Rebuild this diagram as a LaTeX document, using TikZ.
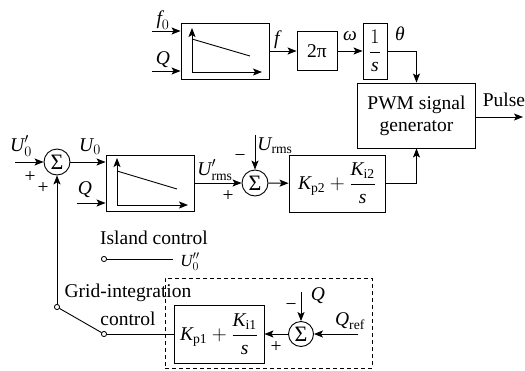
\documentclass[tikz,border=0pt]{standalone}
\usepackage{amsmath}
\usepackage{fontspec}
\setmainfont{Liberation Serif}
\usetikzlibrary{arrows.meta}
\begin{document}
\begin{tikzpicture}[x=1pt,y=-1pt,
  font=\fontsize{19.5}{22}\selectfont,
  line width=0.9pt,
  arr/.style={-{Stealth[length=9pt,width=7pt,inset=2pt]}},
  blk/.style={draw, inner sep=0pt, anchor=center},
  sumc/.style={draw, circle, minimum size=26pt, inner sep=0pt, font=\fontsize{22}{22}\selectfont},
  term/.style={draw, circle, minimum size=5pt, inner sep=0pt, fill=white, line width=0.7pt},
  lbl/.style={inner sep=0pt},
  dbox/.style={draw, dash pattern=on 4pt off 3pt, inner sep=0pt},
]
\useasboundingbox (0,0) rectangle (525,370);

% top row
\node[blk, minimum width=88pt, minimum height=56pt] (dr1) at (225,51) {};
\node[blk, minimum width=40pt, minimum height=39pt] (tp) at (317,51) {2π};
\node[blk, minimum width=24pt, minimum height=56pt] (ig) at (375,51) {$\displaystyle\frac{1}{\textit{s}}$};
\node[blk, minimum width=118pt, minimum height=65pt, align=center] (pwm) at (416.5,115.5) {PWM signal\\generator};

% bottom row
\node[sumc] (s1) at (57,162) {Σ};
\node[blk, minimum width=88pt, minimum height=56pt] (dr2) at (150,183) {};
\node[sumc] (s2) at (255,183) {Σ};
\node[blk, minimum width=96pt, minimum height=57pt] (kp2) at (337,183.5) {$\textit{K}_{\textrm{p2}}+\displaystyle\frac{\textit{K}_{\textrm{i2}}}{\textit{s}}$};

% PI block
\node[dbox, minimum width=207pt, minimum height=90pt] (pib) at (268.5,323) {};
\node[sumc, minimum size=25pt] (s3) at (301,334) {Σ};
\node[blk, minimum width=90pt, minimum height=58pt] (kp1) at (219,334) {$\textit{K}_{\textrm{p1}}+\displaystyle\frac{\textit{K}_{\textrm{i1}}}{\textit{s}}$};

% switch
\node[term] (piv) at (57,307) {};
\node[term] (isl) at (104,259) {};
\node[term] (grd) at (104,334) {};
\coordinate (islend) at (173,259);

% free ends
\coordinate (f0in) at (152,31);
\coordinate (qin1) at (152,71);
\coordinate (pout) at (523,117);
\coordinate (u0in) at (15,162);
\coordinate (qin2) at (77,203);
\coordinate (urmsin) at (255,135);
\coordinate (qin3) at (301,292);
\coordinate (qrefin) at (358,334);

% top connectors
\draw[arr] (f0in) -- (f0in -| dr1.west);
\draw[arr] (qin1) -- (qin1 -| dr1.west);
\draw[arr] (dr1) -- (tp);
\draw[arr] (tp) -- (ig);
\draw[arr] (ig) -| (pwm.north);
\draw[arr] (pwm.east |- pout) -- (pout);

% droop curves
\draw[arr] (192,72) -- (192,28);
\draw[arr] (192,72) -- (262,72);
\draw (192,39) -- (250,56);
\draw[arr] (117,205) -- (117,158);
\draw[arr] (117,205) -- (188,205);
\draw (117,171) -- (177,189);

% bottom connectors
\draw[arr] (u0in) -- (s1);
\draw[arr] (s1) -- (s1 -| dr2.west);
\draw[arr] (qin2) -- (qin2 -| dr2.west);
\draw[arr] (dr2) -- (s2);
\draw[arr] (urmsin) -- (s2);
\draw[arr] (s2) -- (kp2);
\draw[arr] (kp2) -| (pwm.south);

% PI and switch connectors
\draw[arr] (qrefin) -- (s3);
\draw[arr] (qin3) -- (s3);
\draw[arr] (s3) -- (kp1);
\draw (grd) -- (kp1);
\draw (piv) -- (grd);
\draw (isl) -- (islend);
\draw[arr] (piv) -- (s1);
\node[term] at (piv) {};
\node[term] at (isl) {};
\node[term] at (grd) {};

% labels
\node[lbl] (lf0) at (163,20) {$\textit{f}_{0}$};
\node[lbl] (lq1) at (163,60) {\textit{Q}};
\node[lbl] (lf) at (278,40) {\textit{f}};
\node[lbl] (lw) at (350,36) {\textit{ω}};
\node[lbl] (lth) at (400,34) {\textit{θ}};
\node[lbl] (lpul) at (504,100) {Pulse};
\node[lbl] (lu0p) at (21,146) {$\textit{U}'_{0}$};
\node[lbl] (lp1) at (30,177) {+};
\node[lbl] (lp2) at (43,188) {+};
\node[lbl] (lu0) at (90,147) {$\textit{U}_{0}$};
\node[lbl] (lq2) at (85,190) {\textit{Q}};
\node[lbl] (lurp) at (215,170) {$\textit{U}'_{\textrm{rms}}$};
\node[lbl] (lur) at (275,146) {$\textit{U}_{\textrm{rms}}$};
\node[lbl] (lm1) at (240,158) {−};
\node[lbl] (lp3) at (228,196) {+};
\node[lbl] (lisl) at (154,238) {Island control};
\node[lbl, font=\fontsize{17}{18}\selectfont] (lu0pp) at (190,262) {$\textit{U}''_{0}$};
\node[lbl] (lgrid) at (128,293) {Grid-integration};
\node[lbl] (lctl) at (128,319) {control};
\node[lbl] (lq3) at (318,296) {\textit{Q}};
\node[lbl] (lm2) at (291,307) {−};
\node[lbl] (lqref) at (350,321) {$\textit{Q}_{\textrm{ref}}$};
\node[lbl] (lp4) at (276,347) {+};
\end{tikzpicture}
\end{document}
